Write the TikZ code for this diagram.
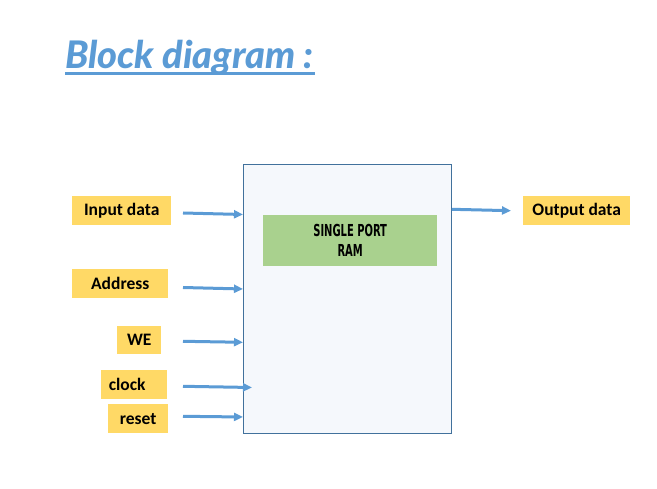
\documentclass[tikz,border=0pt]{standalone}
\usepackage{fontspec}
\setmainfont{Carlito}[BoldFont={Carlito Bold}]
\newfontfamily\titlefont{Lato}[BoldItalicFont={Lato Black Italic}]
\newfontfamily\ramfont{DejaVu Sans Condensed}[BoldFont={DejaVu Sans Condensed Bold}]
\usetikzlibrary{arrows.meta}
\definecolor{arrblue}{HTML}{5B9BD5}
\definecolor{boxedge}{HTML}{41719C}
\definecolor{boxfill}{HTML}{F5F8FC}
\definecolor{lblyellow}{HTML}{FFD966}
\definecolor{ramgreen}{HTML}{A9D18E}
\tikzset{
  lbl/.style={fill=lblyellow, inner sep=0pt, font=\bfseries\fontsize{17.5}{17.5}\selectfont, text=black},
  sig/.style={draw=arrblue, line width=3pt, -{Triangle[length=9pt,width=8pt]}},
}
\begin{document}
\begin{tikzpicture}[x=1pt,y=-1pt]
\useasboundingbox (0,0) rectangle (657,489);
% title
\node[anchor=base west, inner sep=0pt, text=arrblue, font=\titlefont\bfseries\itshape\fontsize{38}{38}\selectfont] (title) at (65,68.5) {Block diagram :};
\draw[arrblue, line width=2.2pt] (65,73.5) -- (315,73.5);
% main block
\node[draw=boxedge, fill=boxfill, line width=1pt, minimum width=208pt, minimum height=269pt, inner sep=0pt, anchor=north west] (main) at (243,164) {};
\node[fill=ramgreen, minimum width=174pt, minimum height=51pt, inner sep=0pt, anchor=north west, align=center,
      font=\ramfont\bfseries\fontsize{16.5}{20}\selectfont] (ram) at (263,215)
      {\scalebox{0.67}[1]{SINGLE PORT}\\\scalebox{0.67}[1]{RAM}};
% labels
\node[lbl, minimum width=99pt, minimum height=29pt, anchor=north west] (din) at (72,196) {Input data};
\node[lbl, minimum width=96pt, minimum height=29pt, anchor=north west] (addr) at (72,269) {Address};
\node[lbl, minimum width=44pt, minimum height=28pt, anchor=north west] (we) at (117,326) {WE};
\node[lbl, minimum width=66pt, minimum height=29pt, anchor=north west] (clk) at (101,370) {\hspace*{-14pt}clock};
\node[lbl, minimum width=60pt, minimum height=29pt, anchor=north west] (rst) at (108,404) {reset};
\node[lbl, minimum width=107pt, minimum height=29pt, anchor=north west] (dout) at (523,196) {Output data};
% arrow end points
\coordinate (dinS) at (183,213);  \coordinate (dinE) at (243,214.5);
\coordinate (addrS) at (183,287.5); \coordinate (addrE) at (243,289);
\coordinate (weS) at (183,341.3); \coordinate (weE) at (243,342.3);
\coordinate (clkS) at (183,386.3); \coordinate (clkE) at (252,387.5);
\coordinate (rstS) at (183,416.3); \coordinate (rstE) at (243,417);
\coordinate (outS) at (452,209.3); \coordinate (outE) at (511,210.7);
\draw[sig] (dinS) -- (dinE);
\draw[sig] (addrS) -- (addrE);
\draw[sig] (weS) -- (weE);
\draw[sig] (clkS) -- (clkE);
\draw[sig] (rstS) -- (rstE);
\draw[sig] (outS) -- (outE);
\end{tikzpicture}
\end{document}
